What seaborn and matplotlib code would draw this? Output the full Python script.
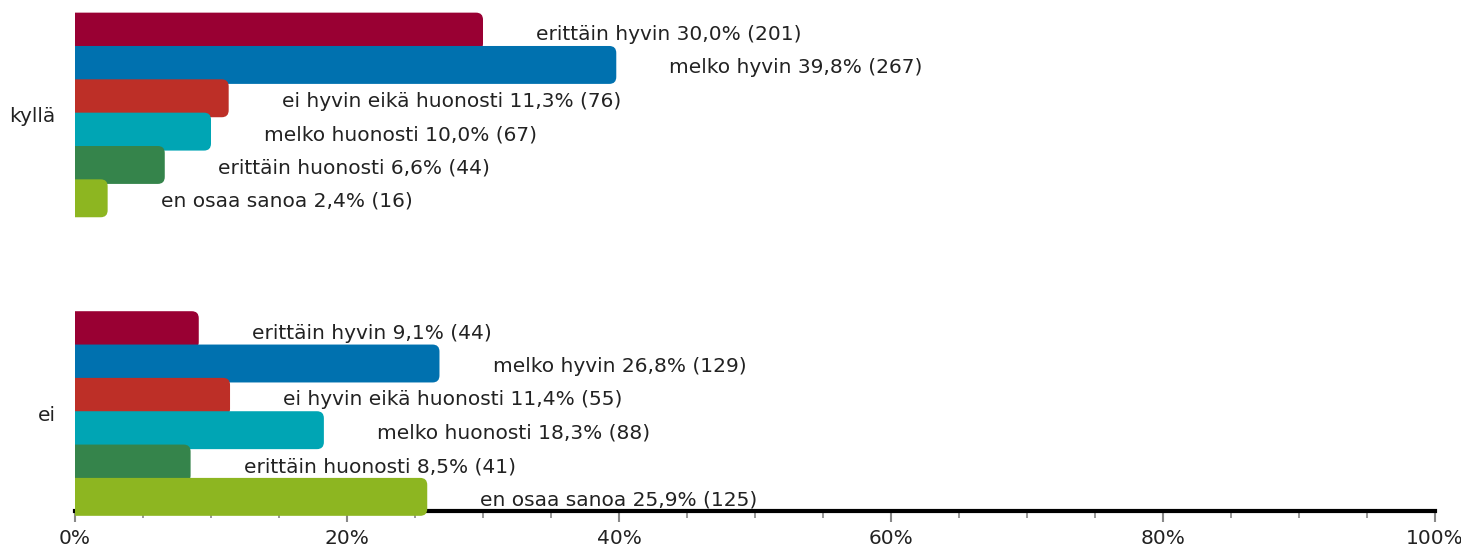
import numpy as np
import pandas as pd
import matplotlib
matplotlib.use('Agg')
import matplotlib.pyplot as plt
import seaborn as sns
from matplotlib.patches import FancyBboxPatch
from matplotlib.ticker import MultipleLocator, FuncFormatter

groups = ['kyllä', 'ei']
responses = ['erittäin hyvin', 'melko hyvin', 'ei hyvin eikä huonosti',
             'melko huonosti', 'erittäin huonosti', 'en osaa sanoa']
pct_kylla = [30.0, 39.8, 11.3, 10.0, 6.6, 2.4]
n_kylla = [201, 267, 76, 67, 44, 16]
pct_ei = [9.1, 26.8, 11.4, 18.3, 8.5, 25.9]
n_ei = [44, 129, 55, 88, 41, 125]
colors = ['#990033', '#0071af', '#bd2f27', '#00a5b4', '#35844b', '#8db621']

rows = []
for g, pcts, ns in [('kyllä', pct_kylla, n_kylla), ('ei', pct_ei, n_ei)]:
    for r, p, n in zip(responses, pcts, ns):
        rows.append({'group': g, 'response': r, 'pct': p, 'n': n})
df = pd.DataFrame(rows)

sns.set_style('white')
plt.rcParams['font.family'] = ['DejaVu Sans']
FS = 14.5

fig = plt.figure(figsize=(14.61, 5.55), dpi=100)
ax = fig.add_axes([75 / 1461, 1 - 521 / 555, 1360 / 1461, 521 / 555])

sns.barplot(data=df, x='pct', y='group', hue='response', order=groups,
            hue_order=responses, palette=colors, saturation=1, width=0.67,
            orient='h', legend=False, ax=ax)

# swap the plain bars for bars with rounded right ends
bar_h = 0.127
rad = 0.51
asp = 0.046
for i, cont in enumerate(ax.containers):
    for j, bar in enumerate(cont):
        w = bar.get_width()
        yc = bar.get_y() + bar.get_height() / 2
        bar.set_visible(False)
        box = FancyBboxPatch((-rad, yc - bar_h / 2), w + rad, bar_h,
                             boxstyle=f"round,pad=0,rounding_size={rad}",
                             mutation_aspect=asp, fc=colors[i], ec='none',
                             zorder=3 + i * 0.01)
        ax.add_patch(box)
        row = df[(df.group == groups[j]) & (df.response == responses[i])].iloc[0]
        lab = f"{row.response} {row.pct:.1f}%".replace('.', ',') + f" ({row.n})"
        ax.text(w + 3.9, yc + 0.01, lab, va='center', ha='left',
                fontsize=FS, color='#222222', zorder=5)

ax.set_xlim(0, 100)
ax.set_ylim(1.360, -0.385)
ax.set_xlabel('')
ax.set_ylabel('')

for s in ['top', 'right', 'left']:
    ax.spines[s].set_visible(False)
ax.spines['bottom'].set_position(('data', 1.3266))
ax.spines['bottom'].set_linewidth(3)
ax.spines['bottom'].set_color('black')

ax.xaxis.set_major_locator(MultipleLocator(20))
ax.xaxis.set_minor_locator(MultipleLocator(5))
ax.xaxis.set_major_formatter(FuncFormatter(lambda v, _: f"{v:.0f}%"))
ax.tick_params(axis='x', which='major', bottom=True, length=8, width=1.5,
               color='#888888', pad=5, labelsize=FS, labelcolor='#222222')
ax.tick_params(axis='x', which='minor', bottom=True, length=5, width=1.2,
               color='#888888')
ax.tick_params(axis='y', length=0, pad=14, labelsize=FS, labelcolor='#222222')

fig.savefig('out.png', dpi=100)
